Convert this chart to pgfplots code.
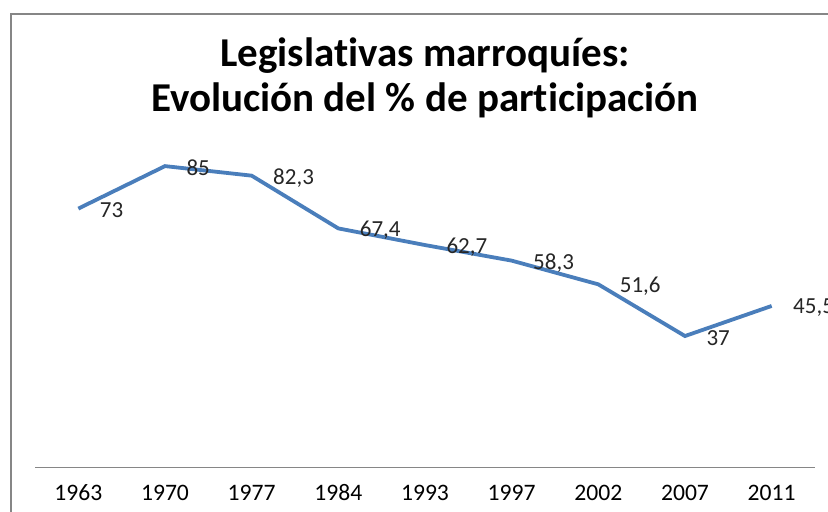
\documentclass[border=0pt]{standalone}
\usepackage{fontspec}
\setmainfont{Carlito}[Ligatures=NoCommon]
\usepackage{pgfplots}
\pgfplotsset{compat=1.18}
\definecolor{linecol}{HTML}{4A7EBB}
\definecolor{framecol}{HTML}{868686}

\begin{document}
\begin{tikzpicture}
\clip (0,0) rectangle (414pt,255.5pt);
% outer chart frame (cut by the page on the right and bottom)
\draw[framecol, line width=1pt] (5.5pt,-20pt) rectangle (440pt,248.5pt);
% title
\node[anchor=base, font=\fontsize{20.5}{24}\selectfont\bfseries] at (212.5pt,222.5pt) {Legislativas marroquíes:};
\node[anchor=base, font=\fontsize{20.5}{24}\selectfont\bfseries] at (212.5pt,200pt) {Evolución del \% de participación};
\begin{axis}[
  at={(17.5pt,22pt)}, anchor=south west,
  scale only axis, width=390pt, height=177pt,
  xmin=-0.5, xmax=8.5, ymin=0, ymax=100,
  hide y axis,
  axis x line*=bottom,
  x axis line style={framecol, line width=0.5pt},
  xtick={0,...,8},
  xticklabels={1963,1970,1977,1984,1993,1997,2002,2007,2011},
  xtick style={draw=none},
  xticklabel style={font=\fontsize{11.8}{14}\selectfont, text height=7.5pt, text depth=0pt, yshift=-5.5pt},
  /pgf/number format/.cd, use comma, assume math mode=true,
  /pgfplots/.cd,
  clip=false,
  nodes near coords,
  every node near coord/.append style={anchor=west, xshift=6.5pt, yshift=-1pt,
    font=\fontsize{11.5}{13}\selectfont, text=black!85},
]
\addplot[color=linecol, line width=1.9pt, mark=none] coordinates {
  (0,73)(1,85)(2,82.3)(3,67.4)(4,62.7)(5,58.3)(6,51.6)(7,37)(8,45.5)
};
\end{axis}
\end{tikzpicture}
\end{document}
